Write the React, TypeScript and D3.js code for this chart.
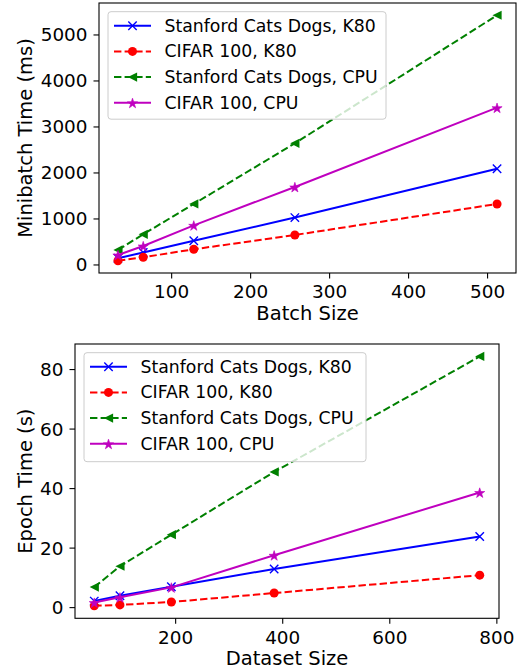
import React from 'react';
import * as d3 from 'd3';

// values
const batchSizes = [32, 64, 128, 256, 512];
const miniCatsK80 = [146, 272, 525, 1030, 2092];
const miniCifarK80 = [92, 167, 341, 652, 1326];
const miniCatsCPU = [326, 667, 1326, 2645, 5428];
const miniCifarCPU = [217, 413, 862, 1696, 3420];

const datasetSizes = [48, 96, 192, 384, 768];
const epochCatsK80 = [2.2, 4.0, 7.0, 13.0, 23.9];
const epochCifarK80 = [0.6, 0.9, 1.9, 4.9, 10.9];
const epochCatsCPU = [6.9, 13.9, 24.5, 45.6, 84.4];
const epochCifarCPU = [1.7, 3.5, 6.8, 17.6, 38.7];

const seriesNames = ['Stanford Cats Dogs, K80', 'CIFAR 100, K80', 'Stanford Cats Dogs, CPU', 'CIFAR 100, CPU'];
const seriesColors = ['#0000ff', '#ff0000', '#008000', '#bf00bf'];
const seriesDash = ['none', '7.4,3.2', '7.4,3.2', 'none'];
const seriesMarkers = ['x', 'o', '<', '*'];

const batchTicks = [100, 200, 300, 400, 500];
const miniTicks = [0, 1000, 2000, 3000, 4000, 5000];
const datasetTicks = [200, 400, 600, 800];
const epochTicks = [0, 20, 40, 60, 80];

const FONT = 'DejaVu Sans, sans-serif';
const TICK_FS = 18.4;
const LABEL_FS = 19.5;

// matplotlib-like autoscale with 5% margins
function padded(vals: number[]): [number, number] {
  const lo = d3.min(vals)!;
  const hi = d3.max(vals)!;
  const m = (hi - lo) * 0.05;
  return [lo - m, hi + m];
}

function Marker({ kind, x, y, color }: { kind: string; x: number; y: number; color: string }) {
  if (kind === 'x') {
    const s = 4.2;
    return (
      <path
        d={`M${x - s},${y - s}L${x + s},${y + s}M${x - s},${y + s}L${x + s},${y - s}`}
        stroke={color}
        strokeWidth={1.4}
        fill="none"
      />
    );
  }
  if (kind === 'o') return <circle cx={x} cy={y} r={4.5} fill={color} />;
  if (kind === '<') {
    const s = 4.6;
    return <path d={`M${x - s},${y}L${x + s},${y - s}L${x + s},${y + s}Z`} fill={color} />;
  }
  const star = d3.symbol(d3.symbolStar, 32)()!;
  return (
    <path
      d={star}
      transform={`translate(${x},${y + 0.7})`}
      fill={color}
      stroke={color}
      strokeWidth={0.6}
    />
  );
}

interface PanelProps {
  xs: number[];
  series: number[][];
  xTicks: number[];
  yTicks: number[];
  xLabel: string;
  yLabel: string;
  box: { left: number; right: number; top: number; bottom: number };
  legend: { x: number; y: number; w: number; h: number };
}

function Panel({ xs, series, xTicks, yTicks, xLabel, yLabel, box, legend }: PanelProps) {
  const x = d3.scaleLinear().domain(padded(xs)).range([box.left, box.right]);
  const y = d3.scaleLinear().domain(padded(series.flat())).range([box.bottom, box.top]);
  const line = d3.line<number>().x((_, i) => x(xs[i])).y(d => y(d));
  const rowH = 25.7;

  return (
    <g>
      {series.map((s, k) => (
        <g key={k}>
          <path
            d={line(s)!}
            fill="none"
            stroke={seriesColors[k]}
            strokeWidth={2}
            strokeDasharray={seriesDash[k]}
          />
          {s.map((v, i) => (
            <Marker key={i} kind={seriesMarkers[k]} x={x(xs[i])} y={y(v)} color={seriesColors[k]} />
          ))}
        </g>
      ))}

      <rect
        x={box.left}
        y={box.top}
        width={box.right - box.left}
        height={box.bottom - box.top}
        fill="none"
        stroke="#000"
        strokeWidth={1.1}
      />

      {yTicks.map(t => (
        <g key={t} transform={`translate(${box.left},${y(t)})`}>
          <line x1={-5.5} x2={0} stroke="#000" strokeWidth={1.1} />
          <text x={-11.5} dy="0.35em" textAnchor="end" fontSize={TICK_FS} fontFamily={FONT}>
            {t}
          </text>
        </g>
      ))}
      {xTicks.map(t => (
        <g key={t} transform={`translate(${x(t)},${box.bottom})`}>
          <line y1={0} y2={5.5} stroke="#000" strokeWidth={1.1} />
          <text y={25.3} textAnchor="middle" fontSize={TICK_FS} fontFamily={FONT}>
            {t}
          </text>
        </g>
      ))}

      <text
        x={(box.left + box.right) / 2}
        y={box.bottom + 47}
        textAnchor="middle"
        fontSize={LABEL_FS}
        fontFamily={FONT}
      >
        {xLabel}
      </text>
      <text
        transform={`translate(25,${(box.top + box.bottom) / 2}) rotate(-90)`}
        textAnchor="middle"
        dy="0.35em"
        fontSize={LABEL_FS}
        fontFamily={FONT}
      >
        {yLabel}
      </text>

      <g transform={`translate(${legend.x},${legend.y})`}>
        <rect
          width={legend.w}
          height={legend.h}
          rx={3}
          fill="#fff"
          fillOpacity={0.8}
          stroke="#cccccc"
          strokeWidth={1}
        />
        {seriesNames.map((name, k) => {
          const cy = 14 + k * rowH;
          return (
            <g key={name}>
              <line
                x1={6}
                x2={43}
                y1={cy}
                y2={cy}
                stroke={seriesColors[k]}
                strokeWidth={2}
                strokeDasharray={seriesDash[k]}
              />
              <Marker kind={seriesMarkers[k]} x={24.5} y={cy} color={seriesColors[k]} />
              <text x={56.5} y={cy} dy="0.35em" fontSize={17.3} fontFamily={FONT}>
                {name}
              </text>
            </g>
          );
        })}
      </g>
    </g>
  );
}

export default function App() {
  return (
    <svg
      width={521}
      height={672}
      style={{ position: 'absolute', left: 0, top: 0, background: '#fff' }}
    >
      <Panel
        xs={batchSizes}
        series={[miniCatsK80, miniCifarK80, miniCatsCPU, miniCifarCPU]}
        xTicks={batchTicks}
        yTicks={miniTicks}
        xLabel="Batch Size"
        yLabel="Minibatch Time (ms)"
        box={{ left: 99, right: 516, top: 3, bottom: 273 }}
        legend={{ x: 108, y: 11.7, w: 278, h: 107.5 }}
      />
      <Panel
        xs={datasetSizes}
        series={[epochCatsK80, epochCifarK80, epochCatsCPU, epochCifarCPU]}
        xTicks={datasetTicks}
        yTicks={epochTicks}
        xLabel="Dataset Size"
        yLabel="Epoch Time (s)"
        box={{ left: 75, right: 499, top: 344, bottom: 618.3 }}
        legend={{ x: 84, y: 352.7, w: 282, h: 109 }}
      />
    </svg>
  );
}
